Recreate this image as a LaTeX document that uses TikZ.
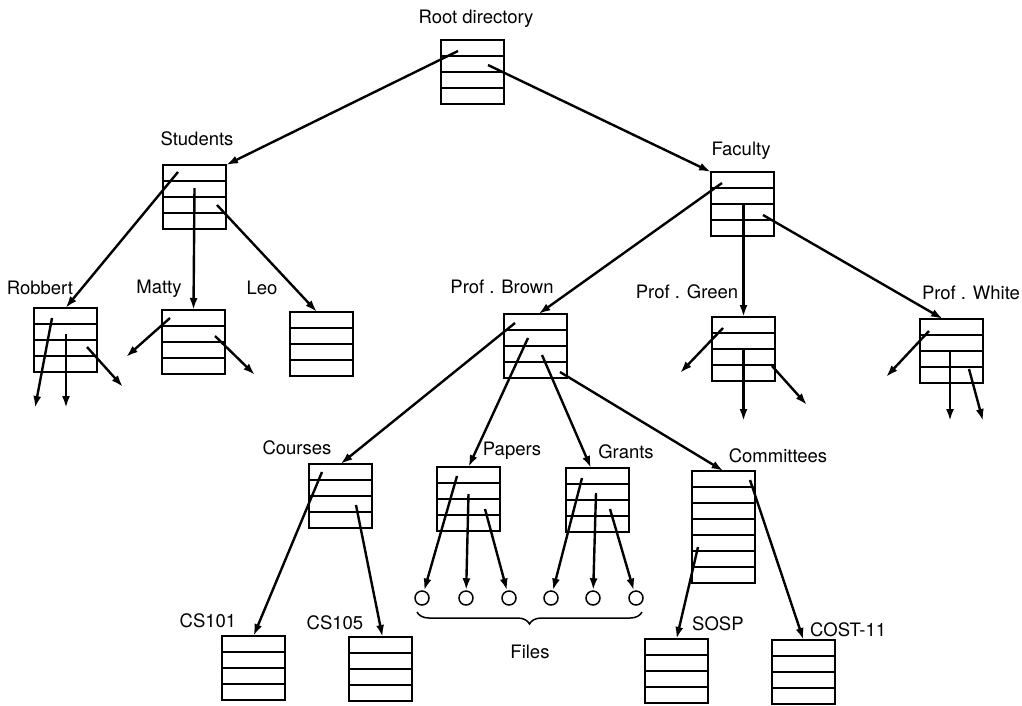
\documentclass[tikz,border=0pt]{standalone}
\usepackage{fontspec}
\setmainfont{TeX Gyre Heros}
\usetikzlibrary{arrows.meta,calc,decorations.pathreplacing}
\tikzset{
  konyvtar/.style={draw,line width=1.6pt,minimum width=63pt,minimum height=64pt,inner sep=0pt,
                   outer sep=0pt,anchor=north west},
  sor/.style={line width=1.5pt},
  mutato/.style={-{Latex[length=12pt,width=8pt]},line width=2.4pt},
  fajl/.style={circle,draw,line width=1.5pt,minimum size=14pt,inner sep=0pt},
  nev/.style={font=\fontsize{18.5}{20}\selectfont,inner sep=0pt},
}
\begin{document}
\begin{tikzpicture}[x=1pt,y=-1pt]
  \useasboundingbox (0,0) rectangle (1022,705);
  % konyvtarak
  \node[konyvtar] (root) at (441,40) {};
  \node[konyvtar] (stud) at (163,165) {};
  \node[konyvtar] (fac) at (711,172) {};
  \node[konyvtar] (rob) at (34,308) {};
  \node[konyvtar] (mat) at (162,310) {};
  \node[konyvtar] (leo) at (290,312) {};
  \node[konyvtar] (brown) at (504,314) {};
  \node[konyvtar] (green) at (712,317) {};
  \node[konyvtar] (white) at (920,319) {};
  \node[konyvtar] (courses) at (309,464) {};
  \node[konyvtar] (papers) at (437,467) {};
  \node[konyvtar] (grants) at (566,468) {};
  \node[konyvtar,minimum height=112pt] (comm) at (692,471) {};
  \node[konyvtar] (cs101) at (222,636) {};
  \node[konyvtar] (cs105) at (349,637) {};
  \node[konyvtar] (sosp) at (645,639) {};
  \node[konyvtar] (cost) at (772,640) {};
  % sorok
  \foreach \d in {root,stud,fac,rob,mat,leo,brown,green,white,courses,papers,grants,cs101,cs105,sosp,cost}
    \foreach \k in {1,2,3} \draw[sor] ($(\d.north west)+(0,16*\k)$) -- ++(63,0);
  \foreach \k in {1,...,6} \draw[sor] ($(comm.north west)+(0,16*\k)$) -- ++(63,0);
  % nevek
  \node[nev] (lroot) at (476,19) {Root directory};
  \node[nev] (lstud) at (197,139) {Students};
  \node[nev] (lfac) at (741,151) {Faculty};
  \node[nev] (lrob) at (40,288) {Robbert};
  \node[nev] (lmat) at (159,289) {Matty};
  \node[nev] (lleo) at (262,288) {Leo};
  \node[nev] (lbrown) at (502,287) {Prof . Brown};
  \node[nev] (lgreen) at (687,292) {Prof . Green};
  \node[nev] (lwhite) at (971,293) {Prof . White};
  \node[nev] (lcourses) at (297,448) {Courses};
  \node[nev] (lpapers) at (512,451) {Papers};
  \node[nev] (lgrants) at (626,452) {Grants};
  \node[nev] (lcomm) at (778,456) {Committees};
  \node[nev] (lcs101) at (208,621) {CS101};
  \node[nev] (lcs105) at (335,623) {CS105};
  \node[nev,anchor=west] (lsosp) at (692,624) {SOSP};
  \node[nev,anchor=west] (lcost) at (810,630) {COST-11};
  % fajlok
  \foreach \i/\x in {1/422,2/466,3/509,4/551,5/593,6/636}
    \node[fajl] (f\i) at (\x,598) {};
  \draw[sor,decorate,decoration={brace,mirror,amplitude=12pt}]
    ($(f1)+(-5,14)$) -- ($(f6)+(6,14)$);
  \node[nev] (lfiles) at (530,652) {Files};
  % szabad vegek
  \coordinate (rob1) at (35,408); \coordinate (rob2) at (66,408); \coordinate (rob3) at (123,387);
  \coordinate (mat1) at (126,357); \coordinate (mat2) at (255,375);
  \coordinate (green1) at (680,373); \coordinate (green2) at (743.5,421); \coordinate (green3) at (807,405);
  \coordinate (white1) at (886,377); \coordinate (white2) at (950,421); \coordinate (white3) at (983,421);
  % mutatok
  \draw[mutato] ($(root.north west)+(17,11)$) -- (stud.north east);
  \draw[mutato] ($(root.north west)+(47,25)$) -- (fac.north west);
  \draw[mutato] ($(stud.north west)+(15,7)$) -- (rob.north);
  \draw[mutato] ($(stud.north west)+(31.5,23)$) -- (mat.north);
  \draw[mutato] ($(stud.north west)+(54,40)$) -- ($(leo.north west)+(27,0)$);
  \draw[mutato] ($(rob.north west)+(18,10)$) -- (rob1);
  \draw[mutato] ($(rob.north west)+(32,26)$) -- (rob2);
  \draw[mutato] ($(rob.north west)+(53,39)$) -- (rob3);
  \draw[mutato] ($(mat.north west)+(8,8)$) -- (mat1);
  \draw[mutato] ($(mat.north west)+(53,26)$) -- (mat2);
  \draw[mutato] ($(fac.north west)+(11,11)$) -- ($(brown.north)+(3,0)$);
  \draw[mutato] ($(fac.north west)+(32.5,31)$) -- (green.north);
  \draw[mutato] ($(fac.north west)+(52,43)$) -- ($(white.north west)+(23,0)$);
  \draw[mutato] ($(green.north west)+(11,11)$) -- (green1);
  \draw[mutato] ($(green.north west)+(31.5,33)$) -- (green2);
  \draw[mutato] ($(green.north west)+(60,49)$) -- (green3);
  \draw[mutato] ($(white.north west)+(9,12)$) -- (white1);
  \draw[mutato] ($(white.north west)+(30,33)$) -- (white2);
  \draw[mutato] ($(white.north west)+(49,50)$) -- (white3);
  \draw[mutato] ($(brown.north west)+(11,9)$) -- (courses.north);
  \draw[mutato] ($(brown.north west)+(24,24)$) -- (papers.north);
  \draw[mutato] ($(brown.north west)+(38,41)$) -- ($(grants.north west)+(25,0)$);
  \draw[mutato] ($(brown.north west)+(56,58)$) -- (comm.north);
  \draw[mutato] ($(courses.north west)+(13,8)$) -- (cs101.north);
  \draw[mutato] ($(courses.north west)+(47,41)$) -- ($(cs105.north)+(2,0)$);
  \draw[mutato] ($(papers.north west)+(20,9)$) -- (f1);
  \draw[mutato] ($(papers.north west)+(31.5,27)$) -- (f2);
  \draw[mutato] ($(papers.north west)+(48,42)$) -- (f3);
  \draw[mutato] ($(grants.north west)+(16,10)$) -- (f4);
  \draw[mutato] ($(grants.north west)+(30,25)$) -- (f5);
  \draw[mutato] ($(grants.north west)+(44,41)$) -- (f6);
  \draw[mutato] ($(comm.north west)+(58,9)$) -- (cost.north);
  \draw[mutato] ($(comm.north west)+(6,76)$) -- (sosp.north);
\end{tikzpicture}
\end{document}
